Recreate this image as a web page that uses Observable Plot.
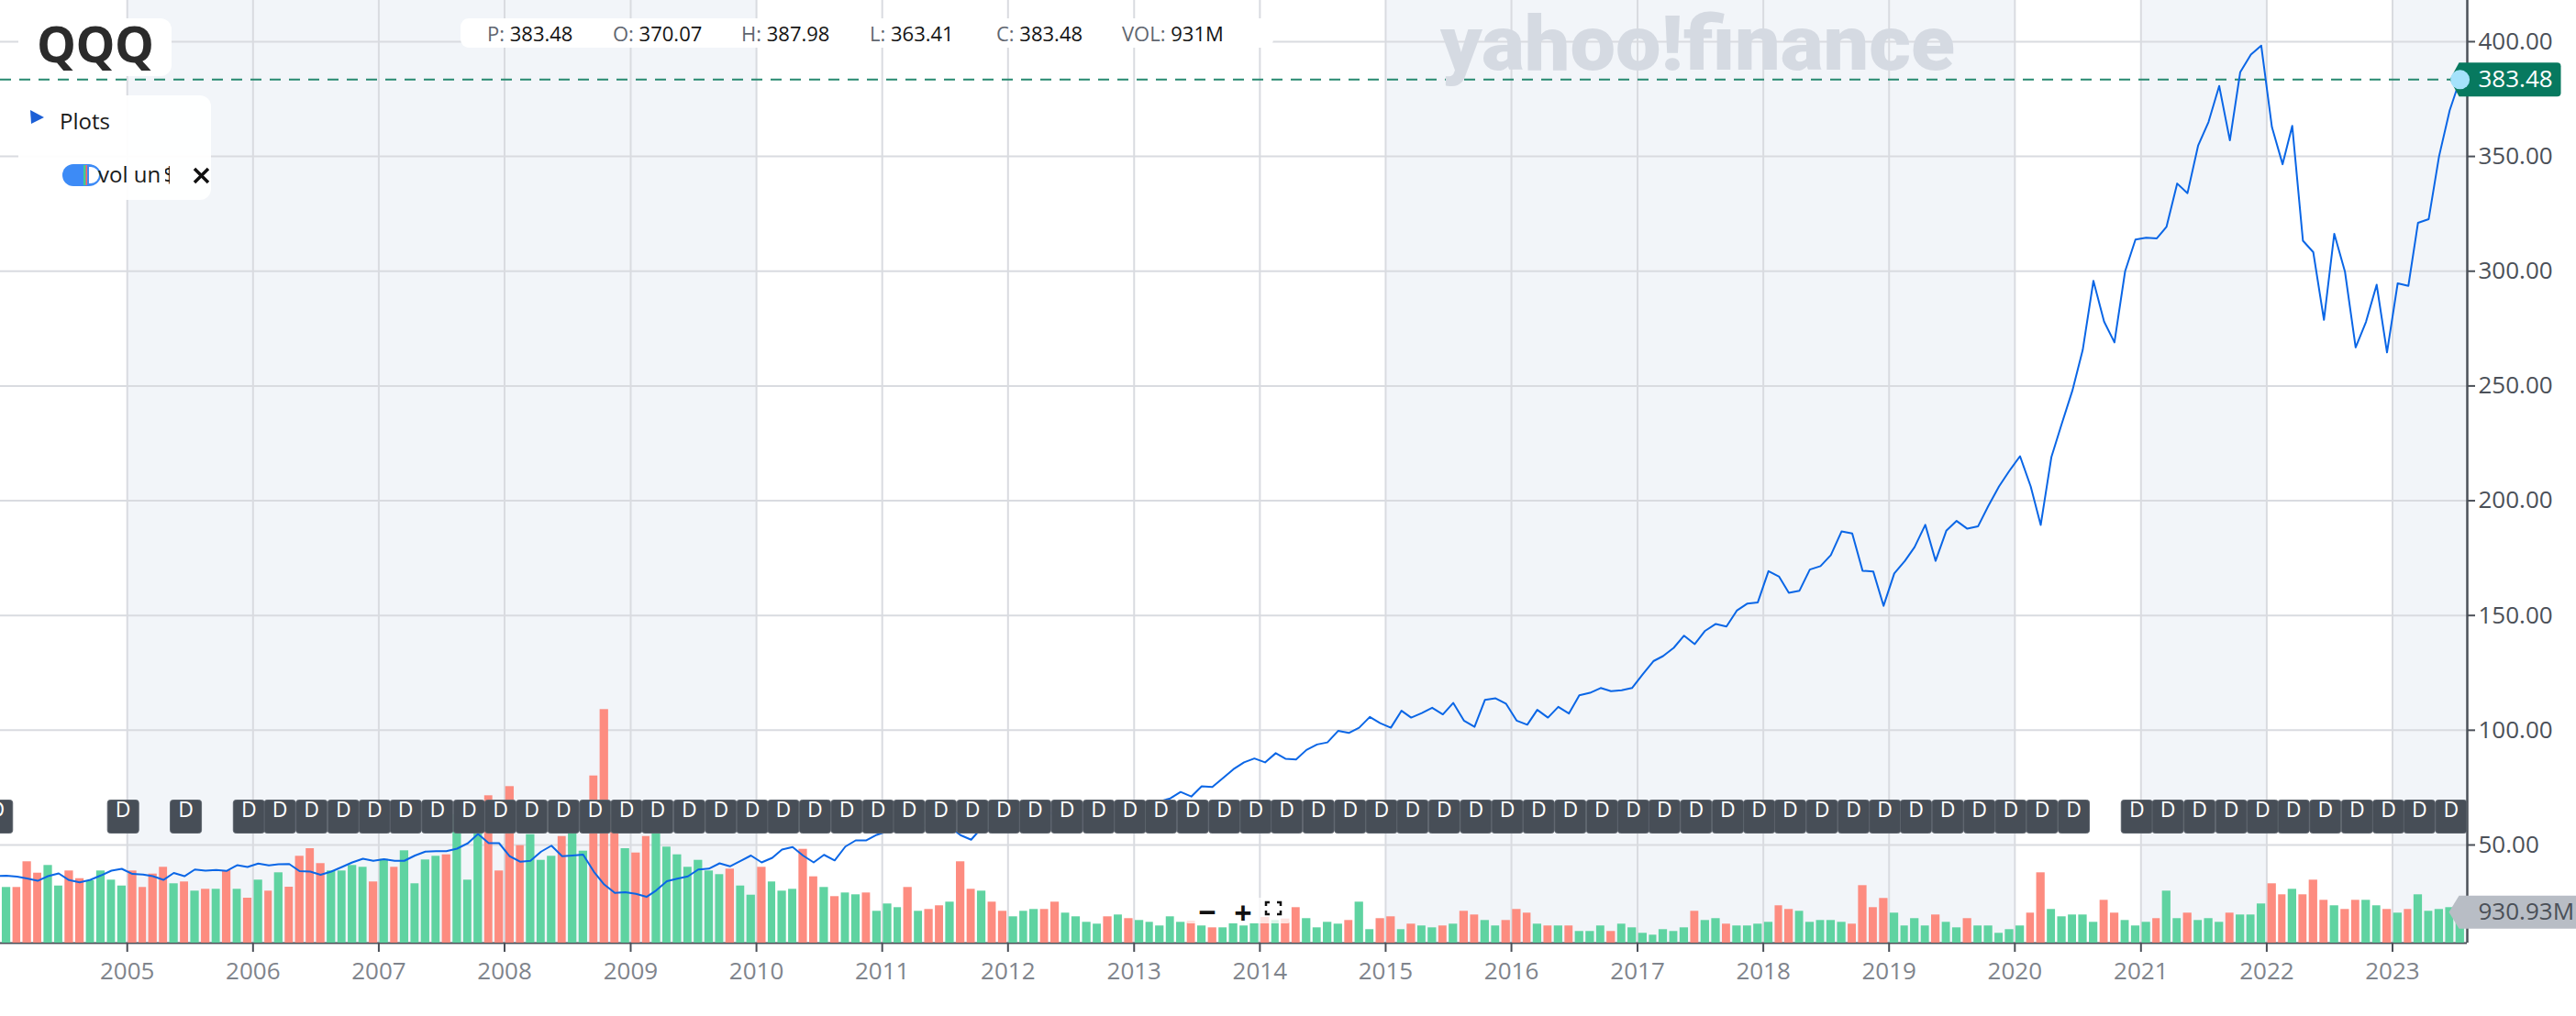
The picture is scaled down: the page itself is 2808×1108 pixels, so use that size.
<!DOCTYPE html>
<html><head><meta charset="utf-8">
<script src="https://cdn.jsdelivr.net/npm/d3@7"></script>
<script src="https://cdn.jsdelivr.net/npm/@observablehq/plot@0.6"></script>
<style>
html,body{margin:0;padding:0;background:#fff;overflow:hidden;}
#wrap{position:relative;width:2808px;height:1108px;font-family:"Open Sans",sans-serif;}
#wrap svg{position:absolute;left:0;top:0;}
</style></head>
<body><div id="wrap"></div>
<script>
// ---------- DATA ----------
const ticker = "QQQ";
const lineStartMonth = "2003-12";   // first close is Dec 2003 (off the left edge)
const closeDec2003 = [36.5];
const close2004 = [36.6,36.2,35.4,34.4,36.4,37.6,34.7,33.7,34.8,36.7,38.8,39.6];
const close2005 = [37.4,37.1,36.4,34.8,37.8,36.4,39.3,38.8,39.1,38.7,41.2,40.4];
const close2006 = [41.9,41.1,41.6,41.7,38.6,38.4,37.0,38.4,40.4,42.4,44.0,43.1];
const close2007 = [43.8,43.1,43.1,45.4,47.1,47.3,47.3,48.4,50.7,54.8,50.8,50.8];
const close2008 = [45.1,42.7,43.1,47.1,49.7,45.1,45.4,45.8,38.4,32.8,29.1,29.4];
const close2009 = [28.7,27.4,30.2,34.2,35.3,36.3,39.3,39.7,42.0,40.7,43.1,45.4];
const close2010 = [42.4,44.4,48.0,49.1,45.4,42.4,45.7,43.3,49.3,52.0,52.0,54.4];
const close2011 = [56.0,57.6,57.4,59.0,58.0,57.2,57.9,54.3,52.3,57.4,55.9,55.8];
const close2012 = [60.4,64.6,67.6,66.9,62.1,64.2,65.0,68.7,68.6,65.2,66.1,65.1];
const close2013 = [67.4,67.9,69.0,70.3,73.1,71.1,75.6,75.3,79.2,83.0,86.0,87.7];
const close2014 = [86.0,90.0,87.6,87.3,91.4,93.8,94.7,99.7,98.8,101.1,105.8,103.1];
const close2015 = [101.1,108.5,105.5,107.5,109.8,106.9,111.9,104.2,101.5,113.2,113.9,111.6];
const close2016 = [104.2,102.4,108.9,105.5,110.2,107.3,115.2,116.3,118.4,117.0,117.4,118.4];
const close2017 = [124.4,130.1,132.3,135.9,141.2,137.5,143.3,146.3,145.2,152.1,155.2,155.7];
const close2018 = [169.3,166.9,159.9,160.8,170.0,171.5,176.3,186.6,185.7,169.5,169.2,154.2];
const close2019 = [168.3,173.8,179.8,189.5,173.8,186.9,191.2,187.8,188.8,197.7,206.2,213.0];
const close2020 = [219.4,206.2,189.4,219.0,233.5,248.0,265.7,295.8,278.0,269.0,300.0,313.8];
const close2021 = [314.6,314.3,319.3,338.2,334.0,354.8,365.0,380.7,357.0,386.7,394.4,398.3];
const close2022 = [362.8,346.6,363.3,313.3,308.3,278.8,316.3,299.8,266.8,277.9,294.1,264.6];
const close2023 = [294.7,293.6,321.1,322.7,350.0,370.1,383.48];

const volStartMonth = "2004-01";   // monthly volume, millions of shares
const vol2004 = [1677,1677,2451,2108,2340,1721,2174,1942,1879,2174,1898,1721];
const vol2005 = [2174,1677,2081,2285,1788,1843,1567,1622,1622,2183,1622,1354];
const vol2006 = [1898,1567,2119,1685,2617,2846,2396,2174,2174,2340,2285,1843];
const vol2007 = [2523,2285,2782,1788,2506,2617,2661,3868,1898,4006,4440,2174];
const vol2008 = [4716,2937,3269,2495,2617,3213,3868,2771,5037,7037,3868,2846];
const vol2009 = [2716,3213,3868,2893,2661,2285,2495,2174,2064,2230,1721,1445];
const vol2010 = [2285,1843,1567,1622,2827,1998,1677,1401,1511,1456,1511,959];
const vol2011 = [1180,1069,1677,959,1014,1125,1235,2451,1622,1567,1235,959];
const vol2012 = [793,959,1014,1014,1235,904,793,627,572,793,848,738];
const vol2013 = [682,627,517,793,627,663,517,461,461,589,517,589];
const vol2014 = [774,682,727,1069,738,461,627,572,682,1235,406,738];
const vol2015 = [793,406,572,517,461,517,572,959,848,682,517,682];
const vol2016 = [1014,904,572,517,517,517,351,351,517,351,572,461];
const vol2017 = [296,240,406,351,461,959,682,738,572,517,517,572];
const vol2018 = [627,1125,1014,959,627,682,682,627,572,1732,1069,1346];
const vol2019 = [904,517,738,517,848,627,461,738,517,517,296,406];
const vol2020 = [517,904,2119,1014,793,848,848,627,1290,904,682,517];
const vol2021 = [627,738,1567,738,904,682,738,627,904,848,848,1180];
const vol2022 = [1788,1456,1622,1456,1898,1290,1125,1014,1290,1290,1125,1014];
const vol2023 = [904,1014,1456,959,1014,1069,930.93];

// bar colour per month: g = up month, r = down month
const dir2004 = "grrrggrrgggg", dir2005 = "rrrrgrgrgrgr", dir2006 = "grgrrrrggggr",
      dir2007 = "grggggrgggrr", dir2008 = "rrgggrggrrrg", dir2009 = "rrgggggggrgg",
      dir2010 = "rgggrrgrggrg", dir2011 = "ggrgrrgrrgrr", dir2012 = "gggrrggggrgr",
      dir2013 = "gggggrgrgggg", dir2014 = "rgrrggggrggr", dir2015 = "rgrggrgrrggr",
      dir2016 = "rrgrgrgggrgg", dir2017 = "gggggrggrggg", dir2018 = "grrgggggrrrr",
      dir2019 = "ggggrggrgggg", dir2020 = "grrgggggrrgg", dir2021 = "grggrgggrggg",
      dir2022 = "rrgrrrgrrggr", dir2023 = "grggggg";

// dividend ("D") event dates
const dividendDates = [
  "2003-12-20","2004-12-20","2005-06-20","2005-12-20",
  "2006-03-20","2006-06-20","2006-09-20","2006-12-20",
  "2007-03-20","2007-06-20","2007-09-20","2007-12-20",
  "2008-03-20","2008-06-20","2008-09-20","2008-12-20",
  "2009-03-20","2009-06-20","2009-09-20","2009-12-20",
  "2010-03-20","2010-06-20","2010-09-20","2010-12-20",
  "2011-03-20","2011-06-20","2011-09-20","2011-12-20",
  "2012-03-20","2012-06-20","2012-09-20","2012-12-20",
  "2013-03-20","2013-06-20","2013-09-20","2013-12-20",
  "2014-03-20","2014-06-20","2014-09-20","2014-12-20",
  "2015-03-20","2015-06-20","2015-09-20","2015-12-20",
  "2016-03-20","2016-06-20","2016-09-20","2016-12-20",
  "2017-03-20","2017-06-20","2017-09-20","2017-12-20",
  "2018-03-20","2018-06-20","2018-09-20","2018-12-20",
  "2019-03-20","2019-06-20","2019-09-20","2019-12-20",
  "2020-03-20","2020-06-20","2020-12-20",
  "2021-03-20","2021-06-20","2021-09-20","2021-12-20",
  "2022-03-20","2022-06-20","2022-09-20","2022-12-20",
  "2023-03-20","2023-06-20"
];

const yearTicks = [2005,2006,2007,2008,2009,2010,2011,2012,2013,2014,2015,2016,2017,2018,2019,2020,2021,2022,2023];
const priceTicks = [50,100,150,200,250,300,350,400];
const shadedPeriods = [["2005-01-01","2010-01-01"],["2015-01-01","2020-01-01"],["2021-01-01","2022-01-01"],["2023-01-01","2023-08-06"]];
const quote = {P:"383.48", O:"370.07", H:"387.98", L:"363.41", C:"383.48", VOL:"931M"};
const lastCloseLabel = "383.48";
const lastVolumeLabel = "930.93M";

(function () {
// ---------- BUILD ----------
const closes = [].concat(closeDec2003, close2004, close2005, close2006, close2007, close2008, close2009,
  close2010, close2011, close2012, close2013, close2014, close2015, close2016, close2017, close2018,
  close2019, close2020, close2021, close2022, close2023);
const volumes = [].concat(vol2004, vol2005, vol2006, vol2007, vol2008, vol2009, vol2010, vol2011,
  vol2012, vol2013, vol2014, vol2015, vol2016, vol2017, vol2018, vol2019, vol2020, vol2021, vol2022, vol2023);
const dirs = (dir2004+dir2005+dir2006+dir2007+dir2008+dir2009+dir2010+dir2011+dir2012+dir2013+
  dir2014+dir2015+dir2016+dir2017+dir2018+dir2019+dir2020+dir2021+dir2022+dir2023).split("");

const lineStart = new Date(lineStartMonth + "-01T00:00:00Z");
const volStart = new Date(volStartMonth + "-01T00:00:00Z");
const lineData = closes.map((c, i) => ({date: d3.utcDay.offset(d3.utcMonth.offset(lineStart, i), 15), close: c}));
const barData = volumes.map((v, i) => ({
  start: d3.utcMonth.offset(volStart, i),
  end: d3.utcMonth.offset(volStart, i + 1),
  vol: v,
  up: dirs[i] === "g"
}));
const lastPoint = lineData[lineData.length - 1];
const lastBar = barData[barData.length - 1];

const W = 2808, H = 1108;
const margins = {marginTop: 0, marginRight: 119, marginBottom: 80, marginLeft: 0};
const xDomain = [new Date("2003-12-30T00:00:00Z"), new Date("2023-08-06T00:00:00Z")];
const priceDomain = [7.25, 417.96];
const volDomain = [0, 28404];
const yearDates = yearTicks.map(y => new Date(Date.UTC(y, 0, 1)));
const axisDark = "#4b5058";
const GREEN = "#5fd3a1", RED = "#fd8c80";

function tagShape(tip, left, right, half, rr) {
  return {draw(ctx) {
    ctx.moveTo(tip, 0);
    ctx.lineTo(left, -half);
    ctx.lineTo(right - rr, -half);
    ctx.quadraticCurveTo(right, -half, right, -half + rr);
    ctx.lineTo(right, half - rr);
    ctx.quadraticCurveTo(right, half, right - rr, half);
    ctx.lineTo(left, half);
    ctx.closePath();
  }};
}
function roundBox(w, h, r) {
  return {draw(ctx) {
    ctx.moveTo(-w + r, -h);
    ctx.lineTo(w - r, -h); ctx.quadraticCurveTo(w, -h, w, -h + r);
    ctx.lineTo(w, h - r); ctx.quadraticCurveTo(w, h, w - r, h);
    ctx.lineTo(-w + r, h); ctx.quadraticCurveTo(-w, h, -w, h - r);
    ctx.lineTo(-w, -h + r); ctx.quadraticCurveTo(-w, -h, -w + r, -h);
    ctx.closePath();
  }};
}

const common = {width: W, height: H, ...margins,
  style: {background: "transparent", fontFamily: "Open Sans", overflow: "visible"}};

// base layer: shading, grid, axes
const basePlot = Plot.plot({
  ...common,
  x: {type: "utc", domain: xDomain, label: null},
  y: {domain: priceDomain, label: null},
  marks: [
    Plot.rect(shadedPeriods, {x1: d => new Date(d[0] + "T00:00:00Z"), x2: d => new Date(d[1] + "T00:00:00Z"), fill: "#f2f5f9"}),
    Plot.gridX(yearDates, {stroke: "#d9dbe0", strokeOpacity: 1, strokeWidth: 2}),
    Plot.gridY(priceTicks, {stroke: "#d9dbe0", strokeOpacity: 1, strokeWidth: 2}),
    Plot.axisX(yearDates, {tickFormat: d3.utcFormat("%Y"), tickSize: 10, tickPadding: 11, fontSize: 26,
      fill: "#7f848c", stroke: axisDark, strokeWidth: 2, label: null}),
    Plot.axisY(priceTicks, {anchor: "right", tickFormat: d => d.toFixed(2), tickSize: 8, tickPadding: 4,
      fontSize: 26, fill: axisDark, stroke: axisDark, strokeWidth: 2, label: null}),
    Plot.ruleY([priceDomain[0]], {stroke: axisDark, strokeWidth: 2}),
    Plot.ruleX([xDomain[1]], {stroke: axisDark, strokeWidth: 2.5})
  ]
});

// volume layer
const volPlot = Plot.plot({
  ...common,
  x: {type: "utc", domain: xDomain, axis: null},
  y: {domain: volDomain, axis: null},
  color: {type: "identity"},
  marks: [
    Plot.rectY(barData, {x1: "start", x2: "end", y: "vol", fill: d => d.up ? GREEN : RED, insetLeft: 1.2, insetRight: 1.2}),
    Plot.dot([lastBar], {y: "vol", frameAnchor: "right", symbol: tagShape(-20, -9, 160, 18, 4), r: 10, fill: "#b8bdc5", stroke: "none"}),
    Plot.text([lastBar], {y: "vol", frameAnchor: "right", dx: 12, text: () => lastVolumeLabel, textAnchor: "start",
      fill: "#4b5058", fontSize: 26})
  ]
});

// price layer
const pricePlot = Plot.plot({
  ...common,
  x: {type: "utc", domain: xDomain, axis: null},
  y: {domain: priceDomain, axis: null},
  marks: [
    Plot.ruleY([lastPoint], {y: "close", stroke: "#27896f", strokeWidth: 2, strokeDasharray: "12,9"}),
    Plot.line(lineData, {x: "date", y: "close", stroke: "#0a66e6", strokeWidth: 2, clip: true}),
    Plot.dot(dividendDates, {x: d => new Date(d + "T00:00:00Z"), frameAnchor: "bottom", dy: -138,
      symbol: roundBox(17, 18, 3), r: 10, fill: "#474e57", stroke: "#5c636c", strokeWidth: 1}),
    Plot.text(dividendDates, {x: d => new Date(d + "T00:00:00Z"), frameAnchor: "bottom", dy: -138,
      text: () => "D", fill: "white", fontSize: 23}),
    Plot.dot([lastPoint], {y: "close", frameAnchor: "right", symbol: tagShape(-19, -9, 102, 18.5, 4), r: 10,
      fill: "#07795f", stroke: "none"}),
    Plot.text([lastPoint], {y: "close", frameAnchor: "right", dx: 12, text: () => lastCloseLabel, textAnchor: "start",
      fill: "white", fontSize: 26}),
    Plot.dot([lastPoint], {x: "date", y: "close", r: 10.5, fill: "#a5e2fb", stroke: "none"})
  ]
});

const wrap = document.getElementById("wrap");
wrap.append(basePlot, volPlot, pricePlot);

// ---------- UI overlay (title, quote box, panels) ----------
const ui = d3.select(wrap).append("svg").attr("width", W).attr("height", H)
  .style("font-family", "Open Sans").style("overflow", "visible");

ui.append("text").text("yahoo!finance")
  .attr("x", 1570).attr("y", 76).attr("textLength", 561).attr("lengthAdjust", "spacingAndGlyphs")
  .attr("font-family", "Roboto").attr("font-weight", 900).attr("font-size", 84)
  .attr("fill", "#d5dae2");

ui.append("rect").attr("x", 20).attr("y", 20).attr("width", 167).attr("height", 63).attr("rx", 12).attr("fill", "#fff");
ui.append("text").text(ticker).attr("x", 40).attr("y", 68).attr("font-weight", 700).attr("font-size", 54)
  .attr("letter-spacing", -0.5).attr("fill", "#2b2b2b");

ui.append("rect").attr("x", 502).attr("y", 20).attr("width", 886).attr("height", 32).attr("rx", 9).attr("fill", "#fff");
const quoteX = {P: 531, O: 668, H: 808, L: 948, C: 1086, VOL: 1223};
Object.keys(quote).forEach(k => {
  const t = ui.append("text").attr("x", quoteX[k]).attr("y", 45).attr("font-size", 22);
  t.append("tspan").text(k + ": ").attr("fill", "#5f6670");
  t.append("tspan").text(quote[k]).attr("fill", "#141414");
});

ui.append("rect").attr("x", 20).attr("y", 104).attr("width", 210).attr("height", 114).attr("rx", 12)
  .attr("fill", "#fff").attr("fill-opacity", 0.93);
ui.append("path").attr("d", "M33,120 L48,128 L34,135 Z").attr("fill", "#1c5fd6");
ui.append("text").text("Plots").attr("x", 65).attr("y", 141).attr("font-size", 24).attr("fill", "#1a1a1a");
ui.append("rect").attr("x", 68).attr("y", 179).attr("width", 41).attr("height", 24).attr("rx", 12).attr("fill", "#3d8bf6");
ui.append("rect").attr("x", 91).attr("y", 180).attr("width", 2.5).attr("height", 22).attr("fill", "#3ecf8e");
ui.append("rect").attr("x", 93.5).attr("y", 180).attr("width", 2.5).attr("height", 22).attr("fill", "#ff6464");
ui.append("path").attr("d", "M96,181 L99,181 A10,10 0 0 1 99,201 L96,201 Z").attr("fill", "#fff")
  .attr("stroke", "#3d8bf6").attr("stroke-width", 2);
ui.append("text").text("vol un").attr("x", 107).attr("y", 199).attr("font-size", 24).attr("fill", "#1a1a1a");
ui.append("clipPath").attr("id", "glyphclip").append("rect").attr("x", 180).attr("y", 176).attr("width", 5).attr("height", 30);
ui.append("text").text("$").attr("x", 178).attr("y", 199).attr("font-size", 24).attr("fill", "#1a1a1a")
  .attr("clip-path", "url(#glyphclip)");
ui.append("path").attr("d", "M212,184 L227,199 M227,184 L212,199").attr("stroke", "#111").attr("stroke-width", 3.5);

ui.append("rect").attr("x", 1292).attr("y", 979).attr("width", 115).attr("height", 28).attr("rx", 4)
  .attr("fill", "#fff").attr("fill-opacity", 0.75);
ui.append("text").text("−").attr("x", 1316).attr("y", 1007).attr("text-anchor", "middle").attr("font-size", 34)
  .attr("font-weight", 700).attr("fill", "#111");
ui.append("text").text("+").attr("x", 1355).attr("y", 1008).attr("text-anchor", "middle").attr("font-size", 34)
  .attr("font-weight", 700).attr("fill", "#111");
ui.append("path").attr("d", "M1380,988 L1380,984 L1384,984 M1392,984 L1396,984 L1396,988 M1396,993 L1396,997 L1392,997 M1384,997 L1380,997 L1380,993")
  .attr("fill", "none").attr("stroke", "#111").attr("stroke-width", 2.5);
})();
</script></body></html>
